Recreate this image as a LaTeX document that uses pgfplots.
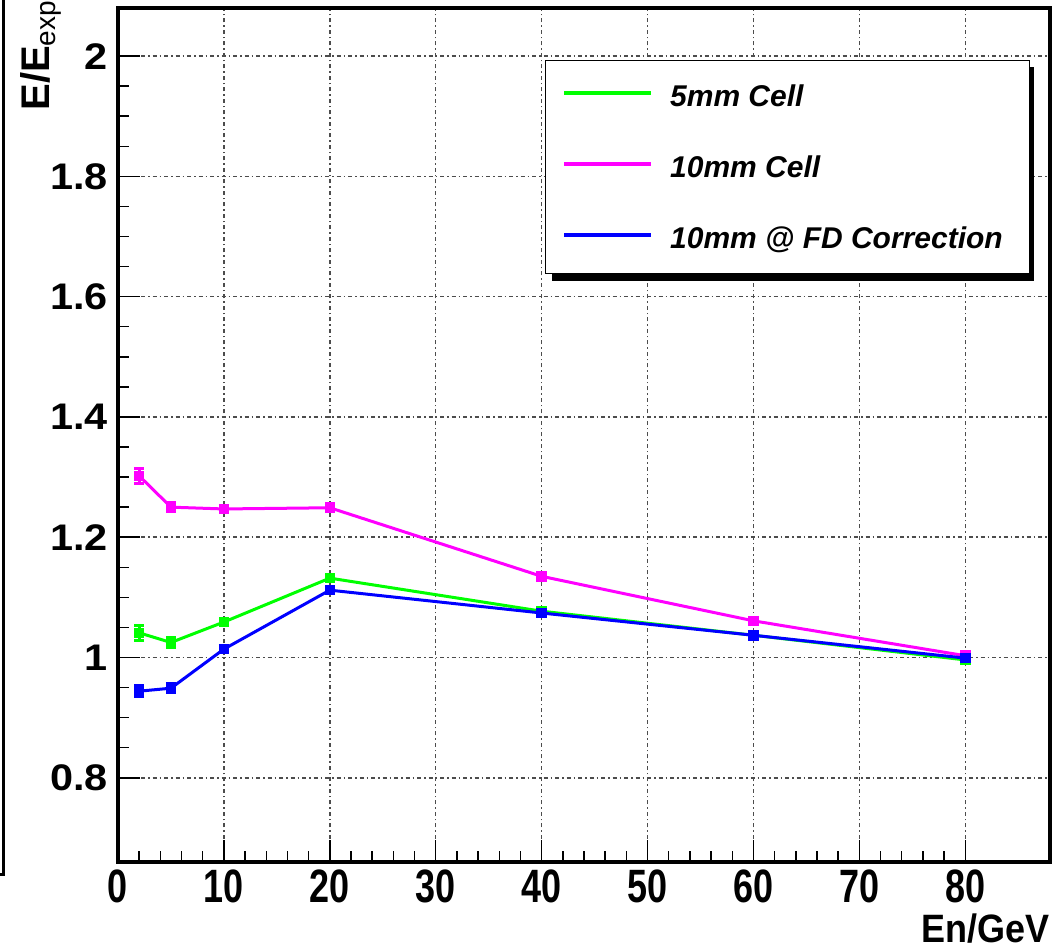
\documentclass[border=0pt]{standalone}
\usepackage{fontspec}
\setmainfont{Liberation Sans}
\usepackage{graphicx}
\usepackage{pgfplots}
\pgfplotsset{compat=1.18}
\definecolor{rgreen}{RGB}{0,255,0}
\definecolor{rmag}{RGB}{255,0,255}
\definecolor{rblue}{RGB}{0,0,255}

\pgfplotstableread{
x y e
2 1.041 0.012
5 1.025 0.009
10 1.059 0.005
20 1.132 0.004
40 1.077 0.003
60 1.037 0.003
80 0.996 0.003
}\greendata
\pgfplotstableread{
x y e
2 1.302 0.013
5 1.250 0.007
10 1.247 0.005
20 1.249 0.004
40 1.135 0.004
60 1.061 0.005
80 1.003 0.004
}\magdata
\pgfplotstableread{
x y e
2 0.944 0.009
5 0.949 0.008
10 1.014 0.006
20 1.112 0.005
40 1.074 0.003
60 1.037 0.003
80 0.999 0.003
}\bluedata

\begin{document}
\begin{tikzpicture}[x=1bp,y=1bp]
\useasboundingbox (0,0) rectangle (1060,952);
\draw[line width=3bp] (3.5,952) -- (3.5,77) -- (0,77);
\begin{axis}[
  at={(118bp,90bp)}, anchor=south west,
  scale only axis, width=932bp, height=854bp,
  xmin=0, xmax=88, ymin=0.66, ymax=2.08,
  xtick={0,10,20,30,40,50,60,70,80},
  ytick={0.8,1.0,1.2,1.4,1.6,1.8,2.0},
  minor x tick num=4, minor y tick num=3,
  tick pos=left, tick align=inside,
  major tick length=22bp, minor tick length=11bp,
  every tick/.style={line width=1.5bp, black},
  axis line style={line width=4.5bp},
  grid=major,
  major grid style={line width=1.5bp, black!70, dash pattern=on 4bp off 3bp on 1.5bp off 3bp},
  /pgf/number format/assume math mode=true,
  xticklabel={\scalebox{1}[1.3]{\pgfmathprintnumber{\tick}}},
  yticklabel={\scalebox{1.12}[1]{\pgfmathprintnumber{\tick}}},
  xticklabel style={font=\bfseries\fontsize{36bp}{40bp}\selectfont, inner sep=0pt, yshift=-8bp},
  yticklabel style={font=\bfseries\fontsize{37bp}{40bp}\selectfont, inner sep=0pt, xshift=-10bp},
  xlabel={\scalebox{1}[1.1]{En/GeV}},
  xlabel style={font=\bfseries\fontsize{36bp}{40bp}\selectfont, inner sep=0pt, at={(axis description cs:1,-0.061)}, anchor=north east},
  ylabel={E/E$_{\mathrm{exp}}$},
  ylabel style={font=\bfseries\fontsize{40bp}{44bp}\selectfont, inner sep=0pt, at={(axis description cs:-0.105,1.009)}, anchor=north east},
  legend cell align=left,
  legend image code/.code={\draw[line width=3.5bp] (0bp,3bp) -- (87bp,3bp);},
  legend style={at={(axis description cs:0.4582,0.9391)}, anchor=north west,
    draw=black, line width=1.2bp, fill=white,
    font=\bfseries\itshape\fontsize{30bp}{36bp}\selectfont,
    inner xsep=17bp, inner ysep=0pt, row sep=0pt, column sep=17bp,
    nodes={inner sep=0pt, minimum height=71bp}},
]
\addplot[color=rgreen, line width=3bp, mark=square*, mark size=3.8bp, mark options={solid},
  error bars/.cd, y dir=both, y explicit, error bar style={line width=3bp}, error mark=|, error mark options={line width=3bp, mark size=5bp}]
  table[x=x, y=y, y error=e] {\greendata};
\addlegendentry{5mm Cell}
\addplot[color=rmag, line width=3bp, mark=square*, mark size=3.8bp, mark options={solid},
  error bars/.cd, y dir=both, y explicit, error bar style={line width=3bp}, error mark=|, error mark options={line width=3bp, mark size=5bp}]
  table[x=x, y=y, y error=e] {\magdata};
\addlegendentry{10mm Cell}
\addplot[color=rblue, line width=3bp, mark=square*, mark size=3.8bp, mark options={solid},
  error bars/.cd, y dir=both, y explicit, error bar style={line width=3bp}, error mark=|, error mark options={line width=3bp, mark size=5bp}]
  table[x=x, y=y, y error=e] {\bluedata};
\addlegendentry{10mm @ FD Correction\rule{10bp}{0pt}}
\fill[black] (rel axis cs:0.4657,0.6803) rectangle (rel axis cs:0.9828,0.9309);
\end{axis}
\end{tikzpicture}
\end{document}
